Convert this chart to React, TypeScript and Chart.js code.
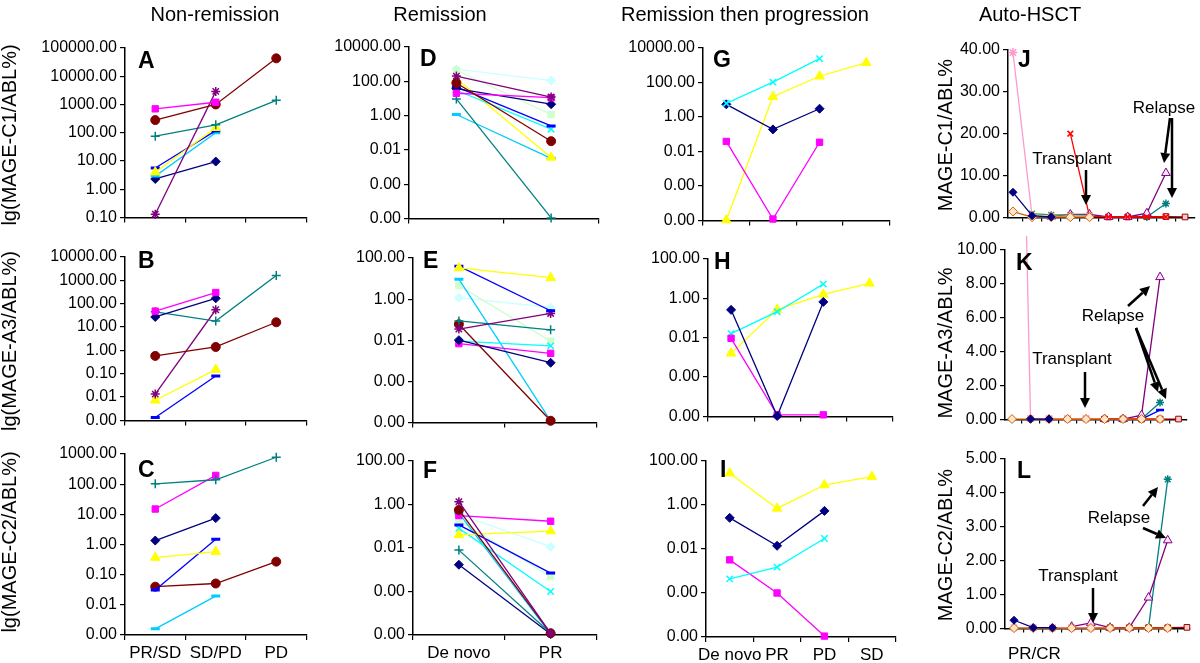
import React, { useEffect, useRef } from 'react';
import { Chart, registerables } from 'chart.js';
Chart.register(...registerables);

document.body.style.margin = '0';
const FONT = "'Liberation Sans', Arial, Helvetica, sans-serif";
Chart.defaults.font.family = FONT;

// ---------- categories & ticks ----------
const catsNonRemission = ['PR/SD', 'SD/PD', 'PD'];
const catsRemission = ['De novo', 'PR'];
const catsProgression = ['De novo', 'PR', 'PD', 'SD'];
const ticksA = [0.1, 1, 10, 100, 1000, 10000, 100000];
const ticksB = [0.001, 0.01, 0.1, 1, 10, 100, 1000, 10000];
const ticksC = [0.001, 0.01, 0.1, 1, 10, 100, 1000];
const ticksWide = [1e-6, 1e-4, 1e-2, 1, 100, 10000];
const ticksNarrow = [1e-6, 1e-4, 1e-2, 1, 100];

// ---------- Panel A (MAGE-C1, non-remission) ----------
const A_navy = [2.3, 9.5, null];
const A_magenta = [700, 1200, null];
const A_yellow = [4, 150, null];
const A_purple = [0.13, 2900, null];
const A_maroon = [280, 1000, 43000];
const A_teal = [75, 190, 1400];
const A_blue = [5.6, 118, null];
const A_sky = [2.9, 100, null];
// ---------- Panel B ----------
const B_navy = [27, 170, null];
const B_magenta = [48, 300, null];
const B_yellow = [0.0073, 0.15, null];
const B_purple = [0.0134, 55, null];
const B_maroon = [0.58, 1.4, 16];
const B_teal = [45, 18, 1600];
const B_blue = [0.00134, 0.08, null];
// ---------- Panel C ----------
const C_navy = [1.35, 7.5, null];
const C_magenta = [15, 195, null];
const C_yellow = [0.37, 0.58, null];
const C_maroon = [0.04, 0.051, 0.27];
const C_teal = [103, 140, 780];
const C_blue = [0.031, 1.5, null];
const C_sky = [0.0016, 0.0195, null];
// ---------- Panel D ----------
const D_navy = [37, 4.6];
const D_magenta = [20, 11];
const D_yellow = [140, 0.0036];
const D_cyan = [30, 0.16];
const D_purple = [200, 12];
const D_maroon = [80, 0.032];
const D_teal = [9.3, 1.07e-6];
const D_blue = [47, 0.25];
const D_sky = [1.15, 0.0032];
const D_lcyan = [510, 110];
const D_lgreen = [440, 1.15];
// ---------- Panel E ----------
const E_navy = [0.01, 0.0008];
const E_magenta = [0.0068, 0.0023];
const E_yellow = [33, 11];
const E_cyan = [0.009, 0.0053];
const E_purple = [0.035, 0.2];
const E_maroon = [0.06, 1.2e-6];
const E_teal = [0.087, 0.032];
const E_blue = [40, 0.27];
const E_sky = [9.3, 1.2e-6];
const E_lcyan = [1.17, 0.39];
const E_lgreen = [4.5, 0.009];
// ---------- Panel F ----------
const F_navy = [0.0017, 1.1e-6];
const F_magenta = [0.31, 0.17];
const F_yellow = [0.04, 0.06];
const F_cyan = [0.08, 0.0001];
const F_purple = [1.35, 1.2e-6];
const F_maroon = [0.56, 1.2e-6];
const F_teal = [0.008, 1.2e-6];
const F_blue = [0.115, 0.0007];
const F_sky = [0.4, 1.1e-6];
const F_lcyan = [0.35, 0.0115];
const F_lgreen = [0.19, 0.00048];
// ---------- Panel G ----------
const G_navy = [5.4, 0.19, 3, null];
const G_magenta = [0.038, 1.2e-6, 0.034, null];
const G_yellow = [1.05e-6, 15, 230, 1400];
const G_cyan = [6.2, 105, 2400, null];
// ---------- Panel H ----------
const H_navy = [0.26, 1.05e-6, 0.66, null];
const H_magenta = [0.0093, 1.2e-6, 1.2e-6, null];
const H_yellow = [0.0016, 0.27, 1.6, 5.8];
const H_cyan = [0.016, 0.21, 5.3, null];
// ---------- Panel I ----------
const I_navy = [0.26, 0.014, 0.54, null];
const I_magenta = [0.0032, 0.0001, 1.1e-6, null];
const I_yellow = [28, 0.7, 8.1, 19.5];
const I_cyan = [0.00044, 0.0015, 0.03, null];
// ---------- Panel J (Auto-HSCT, MAGE-C1) ----------
const J_navy = [6.0, 0.4, 0.1, null, null, null, null, null, null, null];
const J_brown = [1.4, 0.05, 0.05, 0.05, 0.05, null, null, null, null, null];
const J_pink = [39.4, 0.3, 0.2, 0.3, 0.3, null, null, null, null, null];
const J_green = [null, 0.9, 0.6, 0.6, 0.5, null, null, null, null, null];
const J_red = [null, null, null, 20, 0.3, 0.1, 0.1, 0.1, 0.1, null];
const J_purple = [null, null, 0.2, 0.7, 0.7, 0.1, 0.1, 1.0, 10.6, null];
const J_teal = [null, null, null, null, null, null, null, 0.1, 3.3, null];
const J_square = [null, null, null, null, null, 0.1, 0.1, 0.2, 0.2, 0.1];
// ---------- Panel K ----------
const K_navy = [null, 0.02, 0.02, null, null, null, null, null, null, null];
const K_brown = [0.02, 0.02, 0.02, 0.02, 0.02, 0.02, 0.02, 0.02, 0.02, null];
const K_pink = [50, 0.05, 0.05, 0.05, 0.05, null, null, null, null, null];
const K_red = [null, null, 0.02, 0.02, 0.02, 0.02, 0.02, 0.02, 0.02, null];
const K_purple = [null, null, null, null, null, 0.02, 0.02, 0.25, 8.4, null];
const K_teal = [null, null, null, null, null, null, null, 0.02, 1.0, null];
const K_blue = [null, null, null, null, null, null, null, 0.02, 0.55, null];
const K_square = [null, null, null, null, null, 0.02, 0.02, 0.02, 0.02, 0.02];
// ---------- Panel L ----------
const L_navy = [0.24, 0.02, 0.02, null, null, null, null, null, null, null];
const L_brown = [0.01, 0.01, 0.01, 0.01, 0.01, 0.01, 0.01, 0.01, 0.01, null];
const L_pink = [0.02, 0.02, 0.02, 0.02, 0.02, null, null, null, null, null];
const L_red = [null, null, 0.01, 0.01, 0.01, 0.01, 0.01, 0.01, 0.01, null];
const L_purple = [null, null, null, 0.05, 0.16, 0.02, 0.02, 0.91, 2.6, null];
const L_teal = [null, null, null, null, null, null, null, 0.02, 4.4, null];
const L_square = [null, null, null, null, null, 0.02, 0.02, 0.02, 0.02, 0.03];

// ---------- styles ----------
type St = { c: string; ps: string; r: number; bg?: string; bw?: number };
const S: Record<string, St> = {
  navy: { c: '#000080', ps: 'rectRot', r: 4.5 },
  magenta: { c: '#FF00FF', ps: 'rect', r: 4.5 },
  yellow: { c: '#FFFF00', ps: 'triangle', r: 5.5 },
  cyan: { c: '#00FFFF', ps: 'crossRot', r: 4.5, bw: 1.5 },
  purple: { c: '#800080', ps: 'star', r: 4.5, bw: 1.5 },
  maroon: { c: '#800000', ps: 'circle', r: 4.5 },
  teal: { c: '#008080', ps: 'cross', r: 4.5, bw: 1.5 },
  blue: { c: '#0000FF', ps: 'line', r: 4.5, bw: 3 },
  sky: { c: '#00CCFF', ps: 'line', r: 4.5, bw: 3 },
  lcyan: { c: '#CCFFFF', ps: 'rectRot', r: 4.5 },
  lgreen: { c: '#CCFFCC', ps: 'rect', r: 4.5 },
  hNavy: { c: '#000080', ps: 'rectRot', r: 4 },
  hBrown: { c: '#CC6600', ps: 'rectRot', r: 4.5, bg: '#FFE5CC' },
  hPink: { c: '#FF99CC', ps: 'star', r: 4.5, bw: 1.5 },
  hGreen: { c: '#339933', ps: 'crossRot', r: 4, bw: 1.5 },
  hRed: { c: '#FF0000', ps: 'crossRot', r: 4, bw: 1.5 },
  hPurple: { c: '#800080', ps: 'triangle', r: 5, bg: '#FFE5FF' },
  hTeal: { c: '#008080', ps: 'star', r: 4, bw: 1.5 },
  hBlue: { c: '#0000FF', ps: 'line', r: 4, bw: 2.5 },
  hSquare: { c: '#990000', ps: 'rect', r: 4, bg: '#FFCCCC' },
};

function mkDs(data: any[], st: St, extra: any = {}) {
  return {
    data,
    borderColor: st.c,
    backgroundColor: st.bg ?? st.c,
    borderWidth: 1.3,
    pointStyle: st.ps,
    pointRadius: st.r,
    pointBorderColor: st.c,
    pointBackgroundColor: st.bg ?? st.c,
    pointBorderWidth: st.bw ?? 1,
    tension: 0,
    clip: 8,
    ...extra,
  };
}

const YW = 110, PT = 14, PR = 6;
type Box = { l: number; r: number; t: number; b: number; xh: number };

const axisGrid = { drawOnChartArea: false, drawTicks: true, tickLength: 5, color: '#000', lineWidth: 1.2 };
const axisBorder = { display: true, color: '#000', width: 1.5 };

function baseOptions(x: any, y: any) {
  return {
    animation: false,
    responsive: false,
    events: [],
    layout: { padding: { top: PT, right: PR, left: 0, bottom: 0 } },
    plugins: { legend: { display: false }, tooltip: { enabled: false }, title: { display: false } },
    scales: { x, y },
  };
}

function logConfig(box: Box, labels: string[], series: [any[], string][], min: number, max: number, ticks: number[], showX: boolean) {
  const x = {
    type: 'category',
    offset: true,
    afterFit: (s: any) => { s.height = box.xh; },
    ticks: { display: showX, font: { size: 17, family: FONT }, color: '#000', maxRotation: 0, autoSkip: false, padding: 3 },
    grid: { ...axisGrid, offset: true },
    border: axisBorder,
  };
  const y = {
    type: 'logarithmic',
    min, max,
    afterBuildTicks: (s: any) => { s.ticks = ticks.map((v) => ({ value: v })); },
    afterFit: (s: any) => { s.width = YW; },
    ticks: { autoSkip: false, callback: (v: any) => Number(v).toFixed(2), font: { size: 16, family: FONT }, color: '#000', padding: 3 },
    grid: axisGrid,
    border: axisBorder,
  };
  return {
    type: 'line',
    data: { labels, datasets: series.map(([d, k]) => mkDs(d, S[k])) },
    options: baseOptions(x, y),
  };
}

function linConfig(box: Box, series: [any[], string, any?][], max: number, step: number, xmin: number, xmax: number) {
  const x = {
    type: 'linear',
    min: xmin, max: xmax,
    afterBuildTicks: (s: any) => { s.ticks = [0.5, 1.5, 2.5, 3.5, 4.5, 5.5, 6.5, 7.5, 8.5].map((v) => ({ value: v })); },
    afterFit: (s: any) => { s.height = box.xh; },
    ticks: { display: false },
    grid: { ...axisGrid, tickLength: 4 },
    border: axisBorder,
  };
  const y = {
    type: 'linear',
    min: 0, max,
    afterFit: (s: any) => { s.width = YW; },
    ticks: { stepSize: step, callback: (v: any) => Number(v).toFixed(2), font: { size: 16, family: FONT }, color: '#000', padding: 3 },
    grid: axisGrid,
    border: axisBorder,
  };
  return {
    type: 'line',
    data: {
      datasets: series.map(([d, k, extra]) =>
        mkDs(d.map((v: any, i: number) => ({ x: i, y: v })), S[k], extra || {})),
    },
    options: baseOptions(x, y),
  };
}

function Panel({ box, config }: { box: Box; config: any }) {
  const ref = useRef<HTMLCanvasElement>(null);
  const left = box.l - YW, top = box.t - PT;
  const w = box.r - box.l + YW + PR, h = box.b - box.t + PT + box.xh;
  useEffect(() => {
    const chart = new Chart(ref.current as HTMLCanvasElement, config);
    return () => chart.destroy();
  }, []);
  return (
    <canvas ref={ref} width={w} height={h}
      style={{ position: 'absolute', left, top, width: w, height: h }} />
  );
}

// ---------- panel boxes (layout) ----------
const bA: Box = { l: 125, r: 308, t: 48, b: 222, xh: 8 };
const bB: Box = { l: 125, r: 308, t: 257, b: 425, xh: 8 };
const bC: Box = { l: 125, r: 308, t: 454, b: 635, xh: 30 };
const bD: Box = { l: 409, r: 600, t: 47, b: 223, xh: 8 };
const bE: Box = { l: 413, r: 598, t: 258, b: 427, xh: 8 };
const bF: Box = { l: 413, r: 598, t: 461, b: 635, xh: 30 };
const bG: Box = { l: 703, r: 890, t: 48, b: 225, xh: 8 };
const bH: Box = { l: 708, r: 893, t: 259, b: 421, xh: 8 };
const bI: Box = { l: 706, r: 896, t: 461, b: 637, xh: 30 };
const bJ: Box = { l: 1008, r: 1195, t: 50, b: 222, xh: 8 };
const bK: Box = { l: 1005, r: 1187, t: 250, b: 424, xh: 8 };
const bL: Box = { l: 1005, r: 1190, t: 459, b: 633, xh: 8 };

const cfgA = logConfig(bA, catsNonRemission, [[A_magenta, 'magenta'], [A_maroon, 'maroon'], [A_purple, 'purple'], [A_teal, 'teal'], [A_yellow, 'yellow'], [A_blue, 'blue'], [A_sky, 'sky'], [A_navy, 'navy']], 0.1, 100000, ticksA, false);
const cfgB = logConfig(bB, catsNonRemission, [[B_magenta, 'magenta'], [B_navy, 'navy'], [B_teal, 'teal'], [B_maroon, 'maroon'], [B_purple, 'purple'], [B_yellow, 'yellow'], [B_blue, 'blue']], 0.001, 10000, ticksB, false);
const cfgC = logConfig(bC, catsNonRemission, [[C_teal, 'teal'], [C_magenta, 'magenta'], [C_navy, 'navy'], [C_yellow, 'yellow'], [C_blue, 'blue'], [C_maroon, 'maroon'], [C_sky, 'sky']], 0.001, 1000, ticksC, true);
const cfgD = logConfig(bD, catsRemission, [[D_purple, 'purple'], [D_maroon, 'maroon'], [D_magenta, 'magenta'], [D_navy, 'navy'], [D_blue, 'blue'], [D_cyan, 'cyan'], [D_yellow, 'yellow'], [D_teal, 'teal'], [D_sky, 'sky'], [D_lgreen, 'lgreen'], [D_lcyan, 'lcyan']], 1e-6, 1e4, ticksWide, false);
const cfgE = logConfig(bE, catsRemission, [[E_yellow, 'yellow'], [E_blue, 'blue'], [E_purple, 'purple'], [E_teal, 'teal'], [E_maroon, 'maroon'], [E_navy, 'navy'], [E_magenta, 'magenta'], [E_cyan, 'cyan'], [E_sky, 'sky'], [E_lgreen, 'lgreen'], [E_lcyan, 'lcyan']], 1e-6, 100, ticksNarrow, false);
const cfgF = logConfig(bF, catsRemission, [[F_purple, 'purple'], [F_maroon, 'maroon'], [F_magenta, 'magenta'], [F_yellow, 'yellow'], [F_blue, 'blue'], [F_cyan, 'cyan'], [F_teal, 'teal'], [F_navy, 'navy'], [F_sky, 'sky'], [F_lgreen, 'lgreen'], [F_lcyan, 'lcyan']], 1e-6, 100, ticksNarrow, true);
const cfgG = logConfig(bG, catsProgression, [[G_cyan, 'cyan'], [G_navy, 'navy'], [G_magenta, 'magenta'], [G_yellow, 'yellow']], 1e-6, 1e4, ticksWide, false);
const cfgH = logConfig(bH, catsProgression, [[H_navy, 'navy'], [H_magenta, 'magenta'], [H_cyan, 'cyan'], [H_yellow, 'yellow']], 1e-6, 100, ticksNarrow, false);
const cfgI = logConfig(bI, catsProgression, [[I_yellow, 'yellow'], [I_navy, 'navy'], [I_cyan, 'cyan'], [I_magenta, 'magenta']], 1e-6, 100, ticksNarrow, true);
const cfgJ = linConfig(bJ, [[J_navy, 'hNavy'], [J_brown, 'hBrown'], [J_pink, 'hPink'], [J_green, 'hGreen'], [J_red, 'hRed'], [J_purple, 'hPurple'], [J_teal, 'hTeal'], [J_square, 'hSquare']], 40, 10, -0.26, 9.52);
const cfgK = linConfig(bK, [[K_navy, 'hNavy'], [K_brown, 'hBrown'], [K_pink, 'hPink', { clip: { left: 8, right: 8, top: 24, bottom: 8 } }], [K_red, 'hRed'], [K_purple, 'hPurple'], [K_teal, 'hTeal'], [K_blue, 'hBlue'], [K_square, 'hSquare']], 10, 2, -0.38, 9.43);
const cfgL = linConfig(bL, [[L_navy, 'hNavy'], [L_brown, 'hBrown'], [L_pink, 'hPink'], [L_red, 'hRed'], [L_purple, 'hPurple'], [L_teal, 'hTeal'], [L_square, 'hSquare']], 5, 1, -0.47, 9.16);

// ---------- overlay text / arrows (layout) ----------
const colTitles: [string, number][] = [['Non-remission', 215], ['Remission', 440], ['Remission then progression', 745], ['Auto-HSCT', 1030]];
const letters: [string, number, number][] = [
  ['A', 138, 68], ['B', 138, 268], ['C', 138, 477],
  ['D', 420, 66], ['E', 423, 268], ['F', 423, 478],
  ['G', 713, 67], ['H', 714, 269], ['I', 720, 477],
  ['J', 1018, 67], ['K', 1016, 270], ['L', 1017, 478],
];
const yTitles: [string, number, number][] = [
  ['lg(MAGE-C1/ABL%)', 16, 135], ['lg(MAGE-A3/ABL%)', 16, 341], ['lg(MAGE-C2/ABL%)', 16, 542],
  ['MAGE-C1/ABL%', 952, 135], ['MAGE-A3/ABL%', 952, 343], ['MAGE-C2/ABL%', 952, 545],
];
const notes: [string, number, number][] = [
  ['Transplant', 1072, 164], ['Relapse', 1164, 113],
  ['Transplant', 1072, 364], ['Relapse', 1113, 321],
  ['Transplant', 1078, 581], ['Relapse', 1119, 523],
];
const arrows: [number, number, number, number][] = [
  [1086, 170, 1086, 205], [1170, 118, 1164, 163], [1172, 118, 1172, 198],
  [1085, 372, 1085, 408], [1128, 306, 1150, 286], [1136, 328, 1158, 392], [1136, 328, 1166, 399],
  [1093, 588, 1093, 623], [1143, 506, 1158, 487], [1143, 528, 1166, 538],
];

function Arrow({ a }: { a: [number, number, number, number] }) {
  const [x1, y1, x2, y2] = a;
  const dx = x2 - x1, dy = y2 - y1, L = Math.hypot(dx, dy);
  const ux = dx / L, uy = dy / L, hl = 10, hw = 5;
  const bx = x2 - ux * hl, by = y2 - uy * hl;
  const pts = `${x2},${y2} ${bx - uy * hw},${by + ux * hw} ${bx + uy * hw},${by - ux * hw}`;
  return (
    <g>
      <line x1={x1} y1={y1} x2={bx} y2={by} stroke="#000" strokeWidth={2.5} />
      <polygon points={pts} fill="#000" />
    </g>
  );
}

export default function App() {
  return (
    <div style={{ position: 'relative', width: 1200, height: 663, overflow: 'hidden', background: '#fff', fontFamily: FONT }}>
      <Panel box={bA} config={cfgA} />
      <Panel box={bB} config={cfgB} />
      <Panel box={bC} config={cfgC} />
      <Panel box={bD} config={cfgD} />
      <Panel box={bE} config={cfgE} />
      <Panel box={bF} config={cfgF} />
      <Panel box={bG} config={cfgG} />
      <Panel box={bH} config={cfgH} />
      <Panel box={bI} config={cfgI} />
      <Panel box={bJ} config={cfgJ} />
      <Panel box={bK} config={cfgK} />
      <Panel box={bL} config={cfgL} />
      <svg width={1200} height={663} style={{ position: 'absolute', left: 0, top: 0, pointerEvents: 'none' }}>
        {colTitles.map(([t, x]) => (
          <text key={t} x={x} y={21} textAnchor="middle" fontSize={20} fontFamily={FONT} fill="#000">{t}</text>
        ))}
        {letters.map(([t, x, y]) => (
          <text key={t} x={x} y={y} fontSize={23} fontWeight="bold" fontFamily={FONT} fill="#000">{t}</text>
        ))}
        {yTitles.map(([t, x, y]) => (
          <text key={t + y} transform={`translate(${x},${y}) rotate(-90)`} textAnchor="middle" fontSize={20} fontFamily={FONT} fill="#000">{t}</text>
        ))}
        {notes.map(([t, x, y], i) => (
          <text key={i} x={x} y={y} textAnchor="middle" fontSize={17} fontFamily={FONT} fill="#000">{t}</text>
        ))}
        {arrows.map((a, i) => <Arrow key={i} a={a} />)}
        <text x={1008} y={659} fontSize={17} fontFamily={FONT} fill="#000">PR/CR</text>
      </svg>
    </div>
  );
}
